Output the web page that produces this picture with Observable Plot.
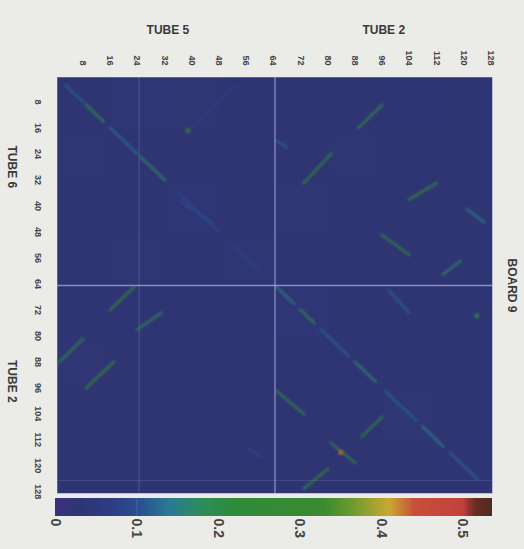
<!DOCTYPE html>
<html><head><meta charset="utf-8">
<script src="https://cdn.jsdelivr.net/npm/d3@7"></script>
<script src="https://cdn.jsdelivr.net/npm/@observablehq/plot@0.6"></script>
<style>
html,body{margin:0;padding:0;background:#ebebe8;width:524px;height:549px;overflow:hidden}
svg{display:block}
g[aria-label="link"], g[aria-label="rect"].spot {filter: blur(0.9px)}
</style></head>
<body><div id="chart"></div>
<script>
// tick labels
const xTicks = [8,16,24,32,40,48,56,64,72,80,88,96,104,112,120,128];
const yTicks = [8,16,24,32,40,48,56,64,72,80,88,96,104,112,120,128];
const colorTicks = [0,0.1,0.2,0.3,0.4,0.5];
const topTitles = ["TUBE 5","TUBE 2"];
const leftTitles = ["TUBE 6","TUBE 2"];
const rightTitle = "BOARD 9";
// background level per 16x16 block (rows top->bottom)
const bgBlocks = [
 [0.030,0.034,0.028,0.030,0.031,0.029,0.032,0.030],
 [0.033,0.030,0.031,0.029,0.030,0.033,0.030,0.031],
 [0.029,0.031,0.034,0.030,0.028,0.031,0.030,0.029],
 [0.031,0.028,0.030,0.033,0.030,0.029,0.031,0.030],
 [0.030,0.032,0.029,0.030,0.034,0.030,0.029,0.031],
 [0.028,0.030,0.031,0.029,0.030,0.032,0.030,0.030],
 [0.031,0.029,0.030,0.031,0.029,0.030,0.033,0.029],
 [0.030,0.031,0.029,0.030,0.031,0.029,0.030,0.032]
];
// streaks: [row0, col0, row1, col1, value]
const streaks = [
 [3,3,8,8,0.12],[9,9,14,14,0.19],[16,16,24,24,0.13],[25,25,32,32,0.18],
 [36,36,48,48,0.09],[52,52,60,60,0.08],
 [65,65,70,70,0.15],[72,72,76,76,0.2],[78,78,86,86,0.12],[88,88,94,94,0.17],
 [97,97,106,106,0.12],[108,108,114,114,0.15],[116,116,124,124,0.12],
 [3,53,16,40,0.08],[39,37,45,46,0.1],
 [16,89,9,96,0.2],[33,73,24,81,0.22],[20,65,22,68,0.12],[38,104,33,112,0.26],
 [41,121,45,126,0.15],[49,96,55,104,0.22],[61,114,57,119,0.18],
 [72,16,65,23,0.26],[88,1,81,8,0.2],[96,9,88,17,0.28],[78,24,73,31,0.2],[115,57,117,60,0.1],
 [66,98,73,104,0.12],[111,90,105,96,0.22],[127,73,121,80,0.26],[113,81,119,88,0.22],[97,65,104,73,0.2]
];
// single hot cells: [row, col, value]
const spots = [[17,39,0.3],[116,84,0.43],[74,124,0.2],[122,41,0.06]];

const colorStops = [0,0.03,0.07,0.1,0.14,0.18,0.22,0.33,0.37,0.41,0.44,0.5,0.515,0.537];
const colorRange = ["#3b3080","#2f3573","#2d3d85","#2a4d90","#2a7a92","#2e8c5a","#2f8a3a","#3a8a30","#789c30","#c9a832","#c8503a","#c2403c","#6a2c24","#4a2a20"];
const colorOpt = {type:"linear", domain: colorStops, range: colorRange, clamp: true};

const bgCells = [];
bgBlocks.forEach((row, r) => row.forEach((v, c) => bgCells.push({r, c, v})));

const font = "Liberation Sans, Arial, sans-serif";
const heat = Plot.plot({
  width: 524, height: 495,
  marginTop: 77, marginLeft: 57, marginRight: 32, marginBottom: 2,
  style: {background: "transparent", overflow: "visible"},
  x: {domain: [0.5, 128.5], axis: null},
  y: {domain: [0.5, 128.5], reverse: true, axis: null},
  color: colorOpt,
  marks: [
    Plot.rect(bgCells, {x1: d => d.c*16+0.5, x2: d => (d.c+1)*16+0.5, y1: d => d.r*16+0.5, y2: d => (d.r+1)*16+0.5, fill: d => d.v, shapeRendering: "crispEdges"}),
    Plot.ruleX([24.5], {stroke: "#7c84bf", strokeOpacity: 0.4, strokeWidth: 1}),
    Plot.ruleY([124.5], {stroke: "#7c84bf", strokeOpacity: 0.25, strokeWidth: 1}),
    Plot.link(streaks, {x1: d => d[1], y1: d => d[0], x2: d => d[3], y2: d => d[2], stroke: d => d[4], strokeWidth: 3, strokeLinecap: "square", strokeOpacity: 0.6}),
    Plot.rect(spots, {x1: d => d[1]-0.7, x2: d => d[1]+0.7, y1: d => d[0]-0.7, y2: d => d[0]+0.7, fill: d => d[2], fillOpacity: 0.75, className: "spot"}),
    Plot.ruleX([64.5], {stroke: "#9ea4d6", strokeWidth: 1.3, strokeOpacity: 0.8}),
    Plot.ruleY([64.5], {stroke: "#9ea4d6", strokeWidth: 1.3, strokeOpacity: 0.8}),
    Plot.frame({stroke: "#8a90c4", strokeOpacity: 0.5}),
    Plot.text(xTicks, {x: d => d, frameAnchor: "top", dy: -12, rotate: 90, textAnchor: "end", lineAnchor: "middle", text: d => String(d), fontSize: 9, fontWeight: "bold", fontFamily: font, fill: "#444"}),
    Plot.text(yTicks, {y: d => d, frameAnchor: "left", dx: -20, rotate: 90, textAnchor: "middle", lineAnchor: "middle", text: d => String(d), fontSize: 9, fontWeight: "bold", fontFamily: font, fill: "#444"}),
    Plot.text(topTitles, {x: [33, 96.5], frameAnchor: "top", dy: -52, text: d => d, fontSize: 12, fontWeight: "bold", fontFamily: font, fill: "#3a3a3a"}),
    Plot.text(leftTitles, {y: [28, 94], frameAnchor: "left", dx: -46, rotate: 90, textAnchor: "middle", lineAnchor: "middle", text: d => d, fontSize: 12, fontWeight: "bold", fontFamily: font, fill: "#3a3a3a"}),
    Plot.text([rightTitle], {frameAnchor: "right", dx: 19, rotate: 90, textAnchor: "middle", lineAnchor: "middle", text: d => d, fontSize: 12, fontWeight: "bold", fontFamily: font, fill: "#3a3a3a"})
  ]
});

const barSteps = d3.range(0, 0.537, 0.002);
const bar = Plot.plot({
  width: 524, height: 54,
  marginTop: 3, marginBottom: 33, marginLeft: 55, marginRight: 32,
  style: {background: "transparent", overflow: "visible"},
  x: {domain: [0, 0.537], axis: null},
  y: {domain: [0, 1], axis: null},
  color: colorOpt,
  marks: [
    Plot.rect(barSteps, {x1: d => d, x2: d => Math.min(d + 0.0025, 0.537), y1: 0, y2: 1, fill: d => d, shapeRendering: "crispEdges"}),
    Plot.ruleX([0.1], {stroke: "#7c84bf", strokeOpacity: 0.4}),
    Plot.text(colorTicks, {x: d => d, frameAnchor: "bottom", dy: 2, rotate: 90, textAnchor: "start", lineAnchor: "middle", text: d => d === 0 ? "0" : d.toFixed(1), fontSize: 14, fontWeight: "bold", fontFamily: font, fill: "#444"})
  ]
});

const el = document.getElementById("chart");
el.appendChild(heat);
el.appendChild(bar);
</script>
</body></html>
